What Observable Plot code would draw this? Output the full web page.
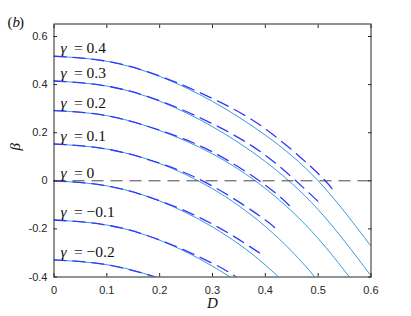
<!DOCTYPE html>
<html><head><meta charset="utf-8">
<script src="https://cdn.jsdelivr.net/npm/d3@7"></script>
<script src="https://cdn.jsdelivr.net/npm/@observablehq/plot@0.6"></script>
<style>
body{margin:0;background:#fff;}
#chart{width:411px;height:316px;}
</style></head><body><div id="chart"></div>
<script>
// series identifiers (gamma) and label texts
const gammas = ["0.4", "0.3", "0.2", "0.1", "0", "-0.1", "-0.2"];
const gammaLabels = ["= 0.4", "= 0.3", "= 0.2", "= 0.1", "= 0", "= \u22120.1", "= \u22120.2"];

// solid curves: beta sampled at D
const solidD = [0, 0.1, 0.2, 0.3, 0.4, 0.5, 0.6];
const solid_04 = [0.518, 0.497, 0.434, 0.330, 0.190, 0.000, -0.272];
const solid_03 = [0.415, 0.394, 0.331, 0.225, 0.080, -0.120, -0.395];
const solid_02 = [0.292, 0.271, 0.209, 0.112, -0.032, -0.240, -0.520];
const solid_01 = [0.153, 0.132, 0.072, -0.033, -0.190, -0.417, -0.720];
const solid_00 = [0.000, -0.021, -0.084, -0.192, -0.350, -0.580, -0.880];
const solid_m01 = [-0.163, -0.184, -0.247, -0.355, -0.510, -0.740, -1.040];
const solid_m02 = [-0.329, -0.349, -0.408, -0.520, -0.680, -0.900, -1.200];

// dashed curves: D samples and beta
const dashD_04 = [0, 0.1, 0.2, 0.3, 0.4, 0.5, 0.531];
const dash_04 = [0.518, 0.497, 0.436, 0.342, 0.216, 0.030, -0.050];
const dashD_03 = [0, 0.1, 0.2, 0.3, 0.4, 0.502];
const dash_03 = [0.415, 0.394, 0.333, 0.237, 0.106, -0.090];
const dashD_02 = [0, 0.1, 0.2, 0.3, 0.4, 0.451];
const dash_02 = [0.292, 0.271, 0.210, 0.120, -0.018, -0.115];
const dashD_01 = [0, 0.1, 0.2, 0.3, 0.4, 0.42];
const dash_01 = [0.153, 0.132, 0.073, -0.022, -0.163, -0.207];
const dashD_00 = [0, 0.1, 0.2, 0.3, 0.394];
const dash_00 = [0.000, -0.021, -0.083, -0.180, -0.307];
const dashD_m01 = [0, 0.1, 0.2, 0.3, 0.345];
const dash_m01 = [-0.163, -0.184, -0.246, -0.343, -0.400];
const dashD_m02 = [0, 0.1, 0.2];
const dash_m02 = [-0.329, -0.349, -0.405];

// ticks
const xTicks = [0, 0.1, 0.2, 0.3, 0.4, 0.5, 0.6];
const xTickLabels = ["0", "0.1", "0.2", "0.3", "0.4", "0.5", "0.6"];
const yTicks = [-0.4, -0.2, 0, 0.2, 0.4, 0.6];
const yTickLabels = ["-0.4", "-0.2", "0", "0.2", "0.4", "0.6"];

const solidSeries = [solid_04, solid_03, solid_02, solid_01, solid_00, solid_m01, solid_m02];
const dashSeries = [[dashD_04, dash_04], [dashD_03, dash_03], [dashD_02, dash_02], [dashD_01, dash_01],
                    [dashD_00, dash_00], [dashD_m01, dash_m01], [dashD_m02, dash_m02]];

const solidRows = solidSeries.flatMap((ys, i) => ys.map((b, j) => ({D: solidD[j], beta: b, g: gammas[i]})));
const dashRows = dashSeries.flatMap(([xs, ys], i) => ys.map((b, j) => ({D: xs[j], beta: b, g: gammas[i]})));
const labelRows = solidSeries.map((ys, i) => ({beta: ys[0], g: gammas[i], t: gammaLabels[i]}));

const serif = "'Liberation Serif', 'Times New Roman', serif";

const chart = Plot.plot({
  width: 411, height: 316,
  marginLeft: 53.5, marginRight: 40.5, marginTop: 23.5, marginBottom: 39.5,
  style: {fontFamily: "'Liberation Sans', Arial, sans-serif", fontSize: "11px", color: "#262626", background: "#fff"},
  x: {domain: [0, 0.6]},
  y: {domain: [-0.4, 0.652]},
  marks: [
    Plot.line(solidRows, {x: "D", y: "beta", z: "g", curve: "natural", clip: true, stroke: "#3a9ad9", strokeWidth: 1}),
    Plot.line(dashRows, {x: "D", y: "beta", z: "g", curve: "natural", clip: true, stroke: "#3535ff", strokeWidth: 1.3, strokeDasharray: "12,7"}),
    Plot.ruleY([0], {stroke: "#454545", strokeWidth: 1, strokeDasharray: "12,7"}),
    Plot.text(labelRows, {y: "beta", frameAnchor: "left", dx: 6.5, dy: -3, lineAnchor: "bottom", textAnchor: "start", text: () => "\u03b3", fontFamily: serif, fontStyle: "italic", fontSize: 15.5, fill: "#111"}),
    Plot.text(labelRows, {y: "beta", frameAnchor: "left", dx: 20, dy: -3, lineAnchor: "bottom", textAnchor: "start", text: "t", fontFamily: serif, fontSize: 15.5, fill: "#111"}),
    Plot.axisX(xTicks, {anchor: "bottom", tickSize: -3.5, tickPadding: 13, tickFormat: (d, i) => xTickLabels[i], label: null}),
    Plot.axisX(xTicks, {anchor: "top", tickSize: -3.5, tickFormat: () => "", label: null}),
    Plot.axisY(yTicks, {anchor: "left", tickSize: -3.5, tickPadding: 10, tickFormat: (d, i) => yTickLabels[i], label: null}),
    Plot.axisY(yTicks, {anchor: "right", tickSize: -3.5, tickFormat: () => "", label: null}),
    Plot.frame({stroke: "#262626", strokeWidth: 1}),
    Plot.text(["D"], {frameAnchor: "bottom", dy: 31, lineAnchor: "bottom", fontFamily: serif, fontStyle: "italic", fontSize: 15, fill: "#111"}),
    Plot.text(["\u03b2"], {frameAnchor: "left", dx: -39, rotate: -90, lineAnchor: "middle", fontFamily: serif, fontStyle: "italic", fontSize: 15, fill: "#111"}),
    Plot.text(["("], {frameAnchor: "top-left", dx: -46.5, dy: 3, textAnchor: "start", lineAnchor: "bottom", fontFamily: serif, fontSize: 15, fill: "#111"}),
    Plot.text(["b"], {frameAnchor: "top-left", dx: -41.5, dy: 3, textAnchor: "start", lineAnchor: "bottom", fontFamily: serif, fontStyle: "italic", fontSize: 15, fill: "#111"}),
    Plot.text([")"], {frameAnchor: "top-left", dx: -35, dy: 3, textAnchor: "start", lineAnchor: "bottom", fontFamily: serif, fontSize: 15, fill: "#111"})
  ]
});
document.getElementById("chart").appendChild(chart);
</script>
</body></html>
